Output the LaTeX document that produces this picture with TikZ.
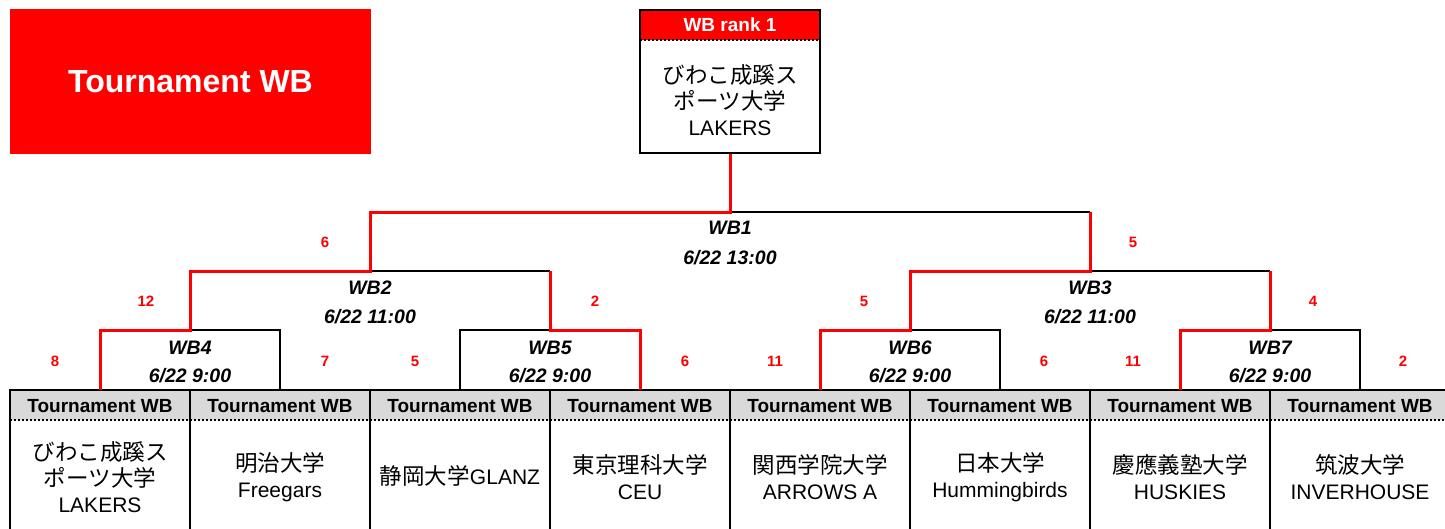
\documentclass[tikz,border=0pt]{standalone}
\usepackage{fontspec}
\setmainfont{Liberation Sans}
\newfontfamily\jpfont{Noto Sans CJK JP}
\newcommand{\J}[1]{{\jpfont\fontsize{22.5}{26}\selectfont #1}}
\definecolor{wbred}{HTML}{FF0000}
\definecolor{hdrgray}{HTML}{D9D9D9}
\begin{document}
\begin{tikzpicture}[x=1pt,y=-1pt,
  thinline/.style={black, line width=1.2pt},
  winline/.style={wbred, line width=3pt, line join=miter},
  score/.style={text=wbred, inner sep=0pt, font=\fontsize{15}{17}\selectfont\bfseries},
  matchname/.style={inner sep=0pt, font=\fontsize{19.5}{21}\selectfont\bfseries\itshape},
  hdrtext/.style={inner sep=0pt, font=\fontsize{19}{21}\selectfont\bfseries},
  bodytext/.style={inner sep=0pt, align=center, font=\fontsize{21}{26}\selectfont},
  dotline/.style={black, line width=1.5pt, dash pattern=on 2pt off 2pt}
]
\useasboundingbox (0,0) rectangle (1445,528);
\clip (0,0) rectangle (1445,528);

% title
\node[fill=wbred, minimum width=361pt, minimum height=145pt, inner sep=0pt,
      text=white, font=\fontsize{32}{35}\selectfont\bfseries] (title) at (190.5,81.5) {Tournament WB};

% rank box
\fill[wbred] (640,10) rectangle (820,40);
\draw[dotline] (640,40) -- (820,40);
\node[draw, line width=2pt, minimum width=180pt, minimum height=143pt, inner sep=0pt] (rankbox) at (730,81.5) {};
\node[hdrtext, text=white] (rankhdr) at (730,25) {WB rank 1};
\node[bodytext] (rankteam) at (730,100) {\J{びわこ成蹊ス}\\\J{ポーツ大学}\\LAKERS};

% team table
\foreach \i in {0,...,7} {
  \fill[hdrgray] ({10+180*\i},390) rectangle ({190+180*\i},420);
  \draw[dotline] ({10+180*\i},420) -- ({190+180*\i},420);
}
\foreach \i in {0,...,8} {
  \draw[black, line width=2.5pt] ({10+180*\i},390) -- ({10+180*\i},540);
}
\draw[black, line width=2.5pt] (8.75,390) -- (1450,390);

\foreach \i in {1,...,8} {
  \node[hdrtext] (hdr\i) at ({-80+180*\i},406) {Tournament WB};
  \coordinate (c\i) at ({-80+180*\i},390);
}
\node[bodytext] (team1) at (100,477) {\J{びわこ成蹊ス}\\\J{ポーツ大学}\\LAKERS};
\node[bodytext] (team2) at (280,477) {\J{明治大学}\\Freegars};
\node[bodytext] (team3) at (460,476) {\J{静岡大学}GLANZ};
\node[bodytext] (team4) at (640,477) {\J{東京理科大学}\\CEU};
\node[bodytext] (team5) at (820,477) {\J{関西学院大学}\\ARROWS A};
\node[bodytext] (team6) at (1000,477) {\J{日本大学}\\Hummingbirds};
\node[bodytext] (team7) at (1180,477) {\J{慶應義塾大学}\\HUSKIES};
\node[bodytext] (team8) at (1360,477) {\J{筑波大学}\\INVERHOUSE};

% bracket points
\coordinate (m4) at (190,330);
\coordinate (m5) at (550,330);
\coordinate (m6) at (910,330);
\coordinate (m7) at (1270,330);
\coordinate (m2) at (370,271);
\coordinate (m3) at (1090,271);
\coordinate (m1) at (730,212);

% losing lines
\draw[thinline] (m4) -| (c2);
\draw[thinline] (c3) |- (m5);
\draw[thinline] (m6) -| (c6);
\draw[thinline] (m7) -| (c8);
\draw[thinline] (m2) -- (m5 |- m2);
\draw[thinline] (m3) -- (m7 |- m3);
\draw[thinline] (m1) -- (m3 |- m1);

% winning lines
\draw[winline] (c1) |- (m4) |- (m2) |- (m1) -- (rankbox.south);
\draw[winline] (c4) |- (m5) -- (m5 |- m2);
\draw[winline] (c5) |- (m6) |- (m3) -- (m3 |- m1);
\draw[winline] (c7) |- (m7) -- (m7 |- m3);

% match labels
\node[matchname] (wb1) at (730,228) {WB1};
\node[matchname] (wb1t) at (730,258) {6/22 13:00};
\node[matchname] (wb2) at (370,288) {WB2};
\node[matchname] (wb2t) at (370,317) {6/22 11:00};
\node[matchname] (wb3) at (1090,288) {WB3};
\node[matchname] (wb3t) at (1090,317) {6/22 11:00};
\node[matchname] (wb4) at (190,348) {WB4};
\node[matchname] (wb4t) at (190,376) {6/22 9:00};
\node[matchname] (wb5) at (550,348) {WB5};
\node[matchname] (wb5t) at (550,376) {6/22 9:00};
\node[matchname] (wb6) at (910,348) {WB6};
\node[matchname] (wb6t) at (910,376) {6/22 9:00};
\node[matchname] (wb7) at (1270,348) {WB7};
\node[matchname] (wb7t) at (1270,376) {6/22 9:00};

% scores
\node[score] (s1a) at (325,242) {6};
\node[score] (s1b) at (1133,242) {5};
\node[score] (s2a) at (146,301) {12};
\node[score] (s2b) at (595,301) {2};
\node[score] (s3a) at (864,301) {5};
\node[score] (s3b) at (1313,301) {4};
\node[score] (s4a) at (55,361) {8};
\node[score] (s4b) at (325,361) {7};
\node[score] (s5a) at (415,361) {5};
\node[score] (s5b) at (685,361) {6};
\node[score] (s6a) at (775,361) {11};
\node[score] (s6b) at (1044,361) {6};
\node[score] (s7a) at (1133,361) {11};
\node[score] (s7b) at (1403,361) {2};
\end{tikzpicture}
\end{document}
